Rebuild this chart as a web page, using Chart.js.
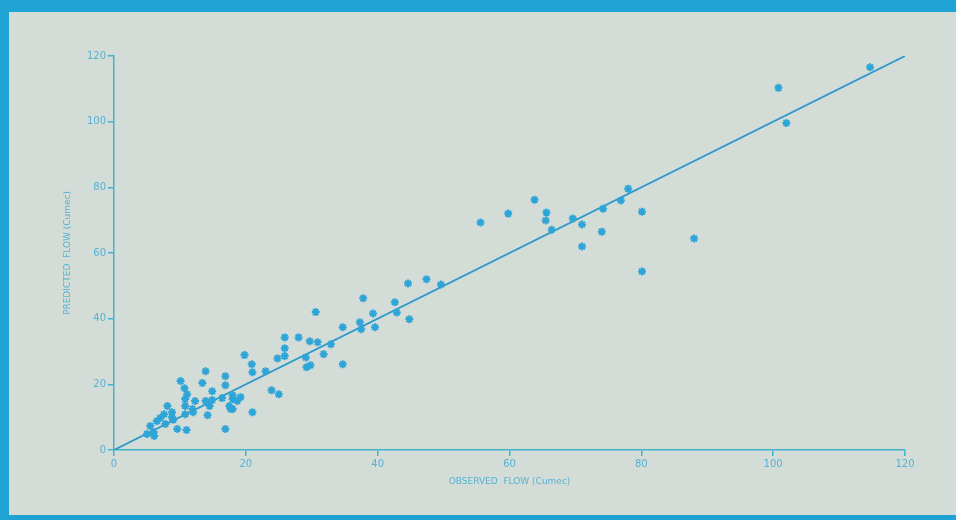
<!DOCTYPE html>
<html lang="en">
<head>
  <meta charset="UTF-8" />
  <title>Observed vs Predicted Flow</title>
  <script src="https://cdn.jsdelivr.net/npm/chart.js"></script>
  <style>
    html, body { margin: 0; padding: 0; background: #1ea3d4; }
    #flowChart { display: block; }
  </style>
</head>
<body>
  <canvas id="flowChart" width="956" height="520"></canvas>

  <script>
    // observed / predicted flow pairs (Cumec)
    const observed = [
      114.7, 100.8, 102.0, 88.0, 80.1, 80.1, 78.0, 76.9, 74.2, 74.0,
      71.0, 71.0, 69.6, 66.4, 65.5, 65.6, 63.8, 59.8, 55.6, 49.6,
      47.4, 44.6, 42.6, 37.8, 42.9, 39.3, 44.8, 37.3, 34.7, 37.5,
      39.6, 30.6, 34.7, 25.9, 28.0, 29.7, 30.9, 32.9, 25.9, 31.8,
      29.1, 24.8, 25.9, 19.8, 29.8, 29.2, 20.9, 21.0, 23.0, 23.9,
      25.0, 19.2, 18.0, 21.0, 13.9, 10.1, 13.4, 16.9, 16.9, 10.7,
      14.9, 18.0, 10.8, 12.3, 13.9, 14.9, 16.4, 14.5, 17.5, 10.8,
      11.9, 8.1, 18.0, 8.8, 7.6, 10.8, 14.2, 7.0, 8.8, 6.5,
      9.6, 11.0, 16.9, 5.5, 5.0, 6.1, 7.8, 11.1, 18.7, 17.7,
      9.0, 12.0, 6.0
    ];
    const predicted = [
      116.6, 110.3, 99.6, 64.4, 54.4, 72.6, 79.6, 76.0, 73.5, 66.5,
      62.0, 68.7, 70.5, 67.1, 69.9, 72.3, 76.2, 72.0, 69.3, 50.4,
      52.0, 50.7, 45.0, 46.2, 41.9, 41.6, 39.8, 38.9, 37.4, 36.8,
      37.4, 42.0, 26.1, 34.3, 34.3, 33.1, 32.8, 32.2, 31.0, 29.2,
      28.2, 27.9, 28.6, 28.9, 25.8, 25.2, 26.1, 23.7, 24.0, 18.2,
      17.0, 16.1, 15.5, 11.5, 24.0, 21.0, 20.4, 22.5, 19.7, 18.8,
      17.9, 16.7, 15.5, 14.9, 14.9, 15.2, 15.8, 13.4, 13.4, 13.4,
      12.5, 13.4, 12.5, 11.5, 10.9, 10.9, 10.6, 9.7, 10.0, 8.8,
      6.4, 6.1, 6.4, 7.3, 4.9, 4.3, 7.9, 17.0, 14.9, 12.5,
      9.2, 11.5, 5.5
    ];
    // 1:1 line
    const lineX = [0, 120];
    const lineY = [0, 120];
    const axisTicks = [0, 20, 40, 60, 80, 100, 120];

    const blue = '#2ea5d6';
    const axisBlue = '#3fb4cc';
    const labelBlue = '#55b2d2';

    // blue mount round the card: top, left and a thin strip at the bottom
    const framePlugin = {
      id: 'frame',
      beforeDraw(chart) {
        const c = chart.ctx;
        c.save();
        c.fillStyle = '#1ea3d4';
        c.fillRect(0, 0, chart.width, chart.height);
        c.fillStyle = '#d4dcd7';
        c.fillRect(9, 12, chart.width - 9, chart.height - 17);
        c.restore();
      }
    };

    const scatterPts = observed.map((x, i) => ({ x: x, y: predicted[i] }));
    const linePts = lineX.map((x, i) => ({ x: x, y: lineY[i] }));

    function axisOpts(title, isY) {
      return {
        type: 'linear',
        min: 0,
        max: 120,
        afterBuildTicks: s => { s.ticks = axisTicks.map(v => ({ value: v })); },
        afterFit: s => { if (isY) s.width = 54; else s.height = 70; },
        grid: { display: true, drawOnChartArea: false, drawTicks: true, tickLength: 6, color: axisBlue, lineWidth: 1.5 },
        border: { display: true, color: axisBlue, width: 1.5 },
        ticks: { color: labelBlue, font: { family: 'DejaVu Sans', size: 10 }, padding: 2 },
        title: {
          display: true,
          text: title,
          color: labelBlue,
          font: { family: 'DejaVu Sans', size: 9 },
          padding: isY ? { top: 2, bottom: 0 } : { top: 0, bottom: 33 }
        }
      };
    }

    new Chart(document.getElementById('flowChart'), {
      type: 'scatter',
      data: {
        datasets: [
          {
            label: 'Observed vs predicted',
            data: scatterPts,
            pointStyle: 'star',
            pointRadius: 4,
            borderWidth: 2,
            borderColor: blue,
            backgroundColor: blue
          },
          {
            label: '1:1',
            type: 'line',
            data: linePts,
            borderColor: '#2b9aca',
            borderWidth: 1.8,
            pointRadius: 0,
            fill: false
          }
        ]
      },
      options: {
        responsive: false,
        animation: false,
        layout: { padding: { left: 60, right: 51, top: 56, bottom: 0 } },
        plugins: {
          legend: { display: false },
          tooltip: { enabled: false }
        },
        scales: {
          x: axisOpts('OBSERVED  FLOW (Cumec)', false),
          y: axisOpts('PREDICTED  FLOW (Cumec)', true)
        }
      },
      plugins: [framePlugin]
    });
  </script>
</body>
</html>
